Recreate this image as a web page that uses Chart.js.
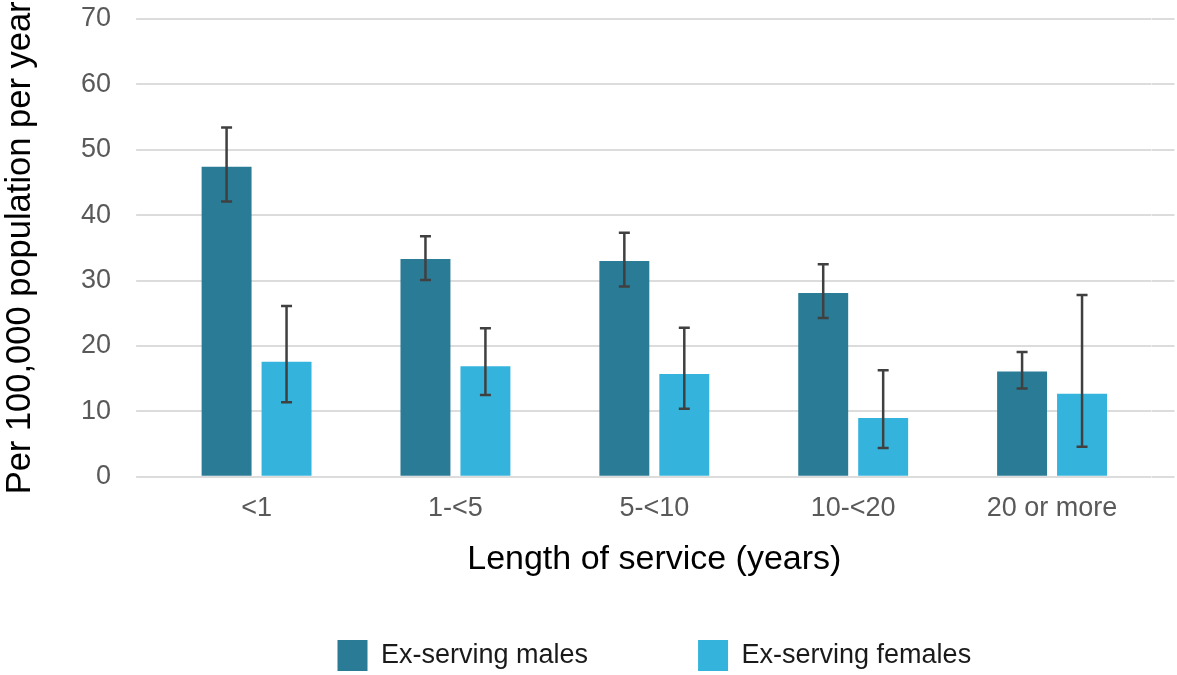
<!DOCTYPE html>
<html>
<head>
<meta charset="utf-8">
<script src="https://cdn.jsdelivr.net/npm/chart.js@4/dist/chart.umd.min.js"></script>
<style>
  html, body { margin: 0; padding: 0; background: #ffffff; }
  #wrap { width: 1177px; height: 675px; position: relative; }
</style>
</head>
<body>
<div id="wrap"><canvas id="chart"></canvas></div>
<script>
// Length-of-service groups
const categories = ['<1', '1-<5', '5-<10', '10-<20', '20 or more'];

// Rates per 100,000 population per year, with 95% confidence limits
const malesRate  = [47.4, 33.3, 33.0, 28.1, 16.1];
const malesLow   = [42.1, 30.1, 29.1, 24.3, 13.5];
const malesHigh  = [53.4, 36.8, 37.3, 32.5, 19.1];

const femalesRate = [17.6, 16.9, 15.7, 9.0, 12.7];
const femalesLow  = [11.4, 12.5, 10.4, 4.4, 4.6];
const femalesHigh = [26.1, 22.7, 22.8, 16.3, 27.8];

const seriesNames = ['Ex-serving males', 'Ex-serving females'];
const yTicks = [0, 10, 20, 30, 40, 50, 60, 70];

const FONT = "'Liberation Sans', Arial, sans-serif";
const GRID = '#dcdcdc';

// Draws confidence-interval whiskers over every bar
const errorBars = {
  id: 'errorBars',
  afterDatasetsDraw(chart) {
    const ctx = chart.ctx;
    const y = chart.scales.y;
    chart.data.datasets.forEach((ds, i) => {
      const meta = chart.getDatasetMeta(i);
      if (meta.hidden) return;
      meta.data.forEach((bar, j) => {
        const top = y.getPixelForValue(ds.errHigh[j]);
        const bottom = y.getPixelForValue(ds.errLow[j]);
        const half = 5.5;
        ctx.save();
        ctx.strokeStyle = '#404040';
        ctx.lineWidth = 2.5;
        ctx.beginPath();
        ctx.moveTo(bar.x, top);
        ctx.lineTo(bar.x, bottom);
        ctx.moveTo(bar.x - half, top);
        ctx.lineTo(bar.x + half, top);
        ctx.moveTo(bar.x - half, bottom);
        ctx.lineTo(bar.x + half, bottom);
        ctx.stroke();
        ctx.restore();
      });
    });
  }
};

// Keep the value axes from reserving extra room above/below the plot
function noVerticalOverflow(scale) {
  scale.paddingTop = 0;
  scale.paddingBottom = 0;
}

new Chart(document.getElementById('chart'), {
  type: 'bar',
  data: {
    labels: categories,
    datasets: [
      {
        label: seriesNames[0],
        data: malesRate,
        errLow: malesLow,
        errHigh: malesHigh,
        backgroundColor: '#2a7b96',
        categoryPercentage: 0.603,
        barPercentage: 0.833
      },
      {
        label: seriesNames[1],
        data: femalesRate,
        errLow: femalesLow,
        errHigh: femalesHigh,
        backgroundColor: '#34b4dd',
        categoryPercentage: 0.603,
        barPercentage: 0.833
      }
    ]
  },
  options: {
    responsive: true,
    maintainAspectRatio: false,
    animation: false,
    layout: { padding: { top: 19, right: 2.5, bottom: -6, left: 0 } },
    plugins: {
      tooltip: { enabled: false },
      legend: {
        position: 'bottom',
        fullSize: false,
        labels: {
          boxWidth: 30,
          boxHeight: 31,
          padding: 110,
          color: '#1a1a1a',
          font: { family: FONT, size: 27 }
        }
      }
    },
    scales: {
      x: {
        grid: { display: false, drawTicks: false },
        border: { display: false },
        ticks: {
          color: '#595959',
          padding: 16,
          font: { family: FONT, size: 27 }
        },
        title: {
          display: true,
          text: 'Length of service (years)',
          color: '#000000',
          padding: { top: -2, bottom: -50 },
          font: { family: FONT, size: 34 }
        }
      },
      y: {
        min: 0,
        max: 70,
        afterBuildTicks(scale) { scale.ticks = yTicks.map(v => ({ value: v })); },
        afterFit: noVerticalOverflow,
        grid: { color: GRID, lineWidth: 2, drawTicks: true, tickLength: 21 },
        border: { display: false },
        ticks: {
          color: '#595959',
          padding: 25,
          font: { family: FONT, size: 27 }
        },
        title: {
          display: true,
          text: 'Per 100,000 population per year',
          color: '#000000',
          padding: { top: 0, bottom: 14.7 },
          font: { family: FONT, size: 34.5 }
        }
      },
      yRight: {
        type: 'linear',
        position: 'right',
        min: 0,
        max: 70,
        afterBuildTicks(scale) { scale.ticks = yTicks.map(v => ({ value: v })); },
        afterFit: noVerticalOverflow,
        grid: { color: GRID, lineWidth: 2, drawOnChartArea: false, drawTicks: true, tickLength: 23 },
        border: { display: false },
        ticks: { display: false }
      }
    }
  },
  plugins: [errorBars]
});
</script>
</body>
</html>
